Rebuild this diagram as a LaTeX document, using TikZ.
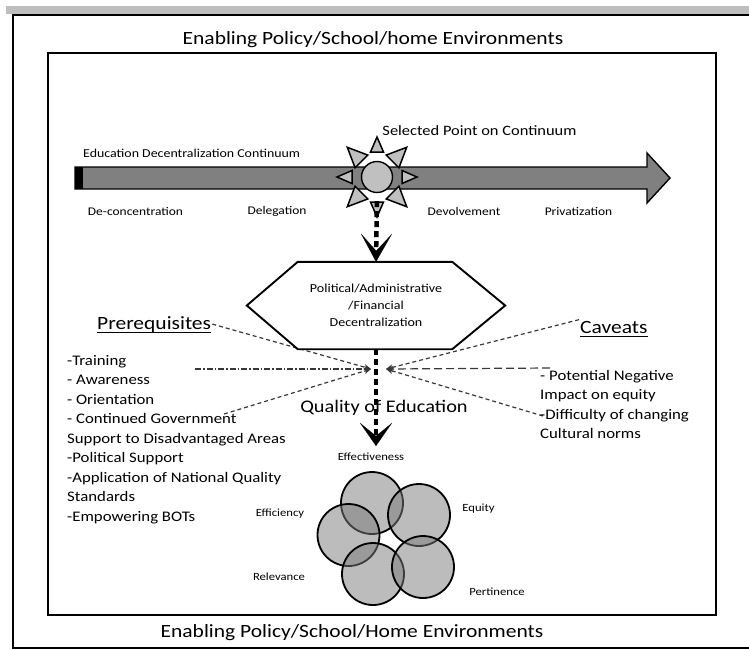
\documentclass[tikz,border=0pt]{standalone}
\usepackage{fontspec}
\setmainfont{Carlito}[FakeStretch=1.15]
\usetikzlibrary{arrows.meta,calc}
\definecolor{barfill}{HTML}{808080}
\definecolor{sunfill}{HTML}{C0C0C0}
\definecolor{topbar}{HTML}{BEBEBE}
\definecolor{linkgray}{HTML}{383838}
\newcommand\fsz[2]{\fontsize{#1}{#2}\selectfont}

\begin{document}
\begin{tikzpicture}[x=1pt,y=-1pt,
  lbl/.style={inner sep=1pt, text=black},
  frameline/.style={line width=2.2pt},
  thickdash/.style={line width=4.5pt, dash pattern=on 6pt off 4pt},
  thinlink/.style={linkgray, line width=1.2pt, dash pattern=on 4pt off 3pt,
    -{Stealth[length=7pt,width=6pt]}},
  petal/.style={circle, draw, line width=1.8pt, minimum size=62pt, inner sep=0pt,
    fill=black!52, fill opacity=0.5, draw opacity=1},
  ray/.style={draw, line width=1.5pt, fill=sunfill, line join=miter},
  headfont/.style={font=\fsz{18.7}{22}},
  listfont/.style={font=\fsz{14.6}{19.5}},
]
\useasboundingbox (0,0) rectangle (749,649);
\fill[white] (0,0) rectangle (749,649);

% grey strip along the top and the outer frame, whose right side runs off the page
\begin{scope}
  \clip (0,0) rectangle (749,649);
  \fill[topbar] (6,6) rectangle (760,14);
  \draw[line width=2pt] (13,15) rectangle (770,647.5);
\end{scope}

% inner frame
\draw[frameline] (48,53) rectangle (716,615);

% titles
\node[lbl, headfont] (toptitle) at (373,40) {Enabling Policy/School/home Environments};
\node[lbl, headfont] (bottitle) at (352,633) {Enabling Policy/School/Home Environments};

% decentralization continuum arrow
\draw[line width=1.4pt, fill=barfill, line join=miter]
  (75,167) -- (647,167) -- (647,153) -- (670,178) -- (647,203) -- (647,189) -- (75,189) -- cycle;
\fill (75,167) rectangle (83,189);

\node[lbl, font=\fsz{14.3}{17}] (selpt) at (479.5,131) {Selected Point on Continuum};
\node[lbl, font=\fsz{12.1}{14}, anchor=west] (contlbl) at (82,153) {Education Decentralization Continuum};
\node[lbl, font=\fsz{11.7}{14}] (stage1) at (135.5,211) {De-concentration};
\node[lbl, font=\fsz{11.7}{14}] (stage2) at (277,211) {Delegation};
\node[lbl, font=\fsz{11.7}{14}] (stage3) at (464,211) {Devolvement};
\node[lbl, font=\fsz{11.7}{14}] (stage4) at (578.5,211) {Privatization};

% sun marking the selected point
\coordinate (suncentre) at (377,177);
\foreach \a in {0,90,180,270}
  \draw[ray] ($(suncentre)+(\a:40)$) -- ($(suncentre)+(\a:25)+(\a+90:6.5)$)
    -- ($(suncentre)+(\a:25)+(\a-90:6.5)$) -- cycle;
\foreach \a in {45,135,225,315}
  \draw[ray] ($(suncentre)+(\a:42)$) -- ($(suncentre)+(\a:22)+(\a+90:9)$)
    -- ($(suncentre)+(\a:22)+(\a-90:9)$) -- cycle;
\node[circle, draw, line width=1.4pt, fill=sunfill, minimum size=31pt, inner sep=0pt] (sun) at (suncentre) {};

% hexagon
\node[inner sep=0pt, minimum width=258pt, minimum height=87pt] (hex) at (376,305.5) {};

% converging prerequisite / caveat links
\coordinate (convL) at (371,369);
\coordinate (convR) at (386,369);
\coordinate (govEnd) at (224,414);
\coordinate (difStart) at (543,416);
\coordinate (dashdotStart) at (195,369);
\coordinate (cavDashStart) at (550,368);

\node[lbl, headfont, anchor=base west] (prq) at (96,329) {Prerequisites};
\draw[line width=1pt] ($(prq.base west)+(1,3)$) -- ($(prq.base east)+(-1,3)$);
\node[lbl, headfont, anchor=base west] (cav) at (579,333) {Caveats};
\draw[line width=1pt] ($(cav.base west)+(1,3)$) -- ($(cav.base east)+(-1,3)$);

\draw[thinlink] (prq.east) -- (convL);
\draw[thinlink, dash pattern=on 6pt off 2pt on 1.5pt off 2pt] (dashdotStart) -- (convL);
\draw[thinlink] (govEnd) -- (convL);
\draw[thinlink] (cav.north west) -- (convR);
\draw[thinlink, dash pattern=on 8pt off 4pt] (cavDashStart) -- (convR);
\draw[thinlink] (difStart) -- (convR);

\draw[line width=1.9pt, fill=white, line join=miter]
  (hex.west) -- ($(hex.north west)+(51,0)$) -- ($(hex.north east)+(-53,0)$) -- (hex.east)
  -- ($(hex.south east)+(-53,0)$) -- ($(hex.south west)+(51,0)$) -- cycle;
\node[lbl, align=center, font=\fsz{12.2}{17}] (hextext) at (hex.center)
  {Political/Administrative\\/Financial\\Decentralization};

\node[lbl, listfont, align=left, anchor=north west, inner sep=0pt] (prqlist) at (67,355)
  {-Training\\- Awareness\\- Orientation\\- Continued Government\\Support to Disadvantaged Areas\\-Political Support\\-Application of National Quality\\Standards\\-Empowering BOTs};
\node[lbl, listfont, align=left, anchor=north west, inner sep=0pt] (cavlist) at (540,370)
  {- Potential Negative\\Impact on equity\\-Difficulty of changing\\Cultural norms};

\node[lbl, font=\fsz{17.7}{21}] (quality) at (384,408) {Quality of Education};

% quality dimensions
\node[lbl, font=\fsz{11}{13}] (lEff) at (371,457) {Effectiveness};
\node[lbl, font=\fsz{11}{13}] (lEfc) at (280,514) {Efficiency};
\node[lbl, font=\fsz{11}{13}] (lEqu) at (478.5,509) {Equity};
\node[lbl, font=\fsz{11}{13}] (lRel) at (279,577) {Relevance};
\node[lbl, font=\fsz{11}{13}] (lPer) at (497,592) {Pertinence};

\node[petal] (pTop) at (372,503) {};
\node[petal] (pEqu) at (419,515) {};
\node[petal] (pEff) at (348.5,535) {};
\node[petal] (pRel) at (373,574) {};
\node[petal] (pPer) at (423,567) {};

% thick dashed flow arrows
\draw[thickdash, shorten <=8pt, -{Stealth[length=28pt,width=31pt,inset=17pt,line width=0.1pt]}]
  (sun.south) -- (hex.north);
\draw[thickdash, shorten >=6pt, -{Stealth[length=23pt,width=32pt,inset=13pt,line width=0.1pt]}]
  (hex.south) -- (hex.south |- lEff.north);
\end{tikzpicture}
\end{document}
